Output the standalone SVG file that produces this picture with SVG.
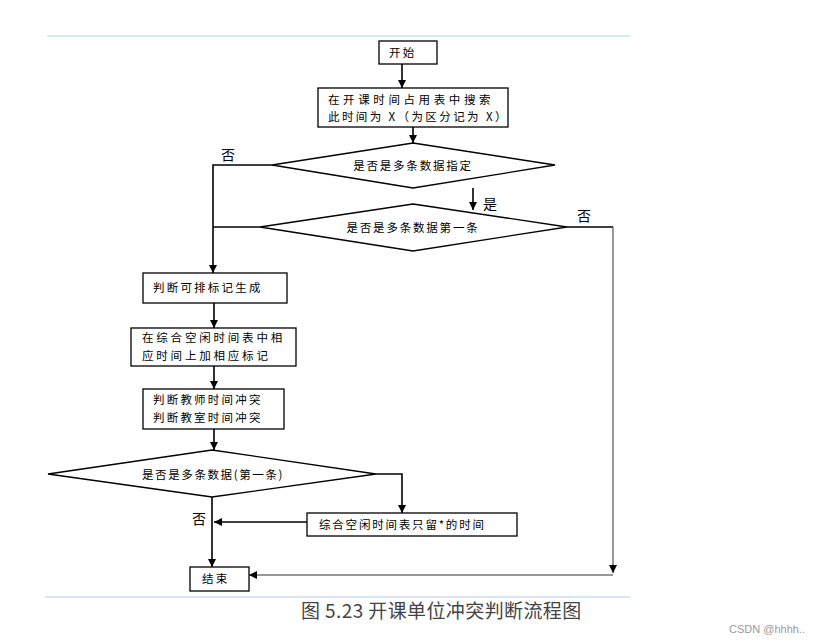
<svg xmlns="http://www.w3.org/2000/svg" width="822" height="643" viewBox="0 0 822 643">
<style>
.box{fill:#fff;stroke:#000;stroke-width:1.3}
.t{font-family:"Noto Sans CJK SC","Liberation Sans",sans-serif;font-size:11.5px;fill:#000;letter-spacing:2.2px}
.c{text-anchor:middle}
.lbl{font-family:"Noto Sans CJK SC","Liberation Serif",serif;font-size:14px;fill:#000}
.ln{fill:none;stroke:#000;stroke-width:1.6}
.thin{fill:none;stroke:#333;stroke-width:1}
</style>
<defs>
<marker id="ah" markerUnits="userSpaceOnUse" markerWidth="9" markerHeight="9" refX="8" refY="4" orient="auto">
<path d="M0,0 L8,4 L0,8 z" fill="#000"/>
</marker>
</defs>
<rect width="822" height="643" fill="#fff"/>
<line x1="47" y1="36" x2="630" y2="36" stroke="#d2eaf4" stroke-width="2"/>
<line x1="45" y1="597" x2="630" y2="597" stroke="#c9dfec" stroke-width="1.5"/>

<g id="start"><rect class="box" x="379" y="41" width="58" height="23"/><text class="t" x="389" y="57">开始</text></g>
<g id="search"><rect class="box" x="318" y="88" width="190" height="39"/><text class="t" x="328" y="104" style="letter-spacing:3.6px">在开课时间占用表中搜索</text><text class="t" x="328" y="121" style="letter-spacing:2.4px">此时间为 X（为区分记为 X）</text></g>
<g id="d1"><polygon class="box" points="413,143 555,165 413,188 272,165"/><text class="t c" x="413" y="170" style="letter-spacing:1.8px">是否是多条数据指定</text></g>
<g id="d2"><polygon class="box" points="413,204 567,227 413,251 260,227"/><text class="t c" x="413" y="232" style="letter-spacing:1.8px">是否是多条数据第一条</text></g>
<g id="mark"><rect class="box" x="143" y="273" width="144" height="30"/><text class="t" x="153" y="292">判断可排标记生成</text></g>
<g id="free"><rect class="box" x="131" y="328" width="165" height="38"/><text class="t" x="142" y="342" style="letter-spacing:2.8px">在综合空闲时间表中相</text><text class="t" x="142" y="360" style="letter-spacing:2.8px">应时间上加相应标记</text></g>
<g id="conflict"><rect class="box" x="143" y="389" width="141" height="40"/><text class="t" x="153" y="404">判断教师时间冲突</text><text class="t" x="153" y="422">判断教室时间冲突</text></g>
<g id="d3"><polygon class="box" points="212,450 376,474 212,497 48,474"/><text class="t c" x="213" y="479" style="letter-spacing:1.6px">是否是多条数据(第一条)</text></g>
<g id="keep"><rect class="box" x="307" y="513" width="210" height="23"/><text class="t" x="319" y="529" style="letter-spacing:1.8px">综合空闲时间表只留*的时间</text></g>
<g id="end"><rect class="box" x="190" y="567" width="59" height="24"/><text class="t" x="202" y="583">结束</text></g>

<g id="connectors">
<line class="ln" x1="402" y1="64" x2="402" y2="88" marker-end="url(#ah)"/>
<line class="ln" x1="413" y1="127" x2="413" y2="143" marker-end="url(#ah)"/>
<polyline class="ln" points="272,165 213,165 213,273" marker-end="url(#ah)"/>
<line class="ln" x1="260" y1="227" x2="213" y2="227"/>
<line class="ln" x1="473" y1="188" x2="473" y2="210" marker-end="url(#ah)"/>
<line class="ln" x1="567" y1="227" x2="613" y2="227"/>
<line class="thin" x1="613" y1="227" x2="613" y2="573" marker-end="url(#ah)"/>
<line class="thin" x1="613" y1="575" x2="249" y2="575" marker-end="url(#ah)"/>
<line class="ln" x1="214" y1="303" x2="214" y2="328" marker-end="url(#ah)"/>
<line class="ln" x1="214" y1="366" x2="214" y2="389" marker-end="url(#ah)"/>
<line class="ln" x1="214" y1="429" x2="214" y2="450" marker-end="url(#ah)"/>
<polyline class="ln" points="376,474 402,474 402,513" marker-end="url(#ah)"/>
<line class="ln" x1="307" y1="522" x2="214" y2="522" marker-end="url(#ah)"/>
<line class="ln" x1="212" y1="497" x2="212" y2="567" marker-end="url(#ah)"/>
<text class="lbl" x="221" y="160">否</text>
<text class="lbl" x="483" y="209">是</text>
<text class="lbl" x="577" y="221">否</text>
<text class="lbl" x="192" y="524">否</text>
</g>

<text x="301" y="618" font-family="'Noto Sans CJK SC','Liberation Serif',serif" font-size="19" fill="#444" letter-spacing="0.4">图 5.23 开课单位冲突判断流程图</text>
<text x="729" y="633" font-family="'Liberation Sans','Noto Sans',sans-serif" font-size="11" fill="#999">CSDN @hhhh..</text>
</svg>
